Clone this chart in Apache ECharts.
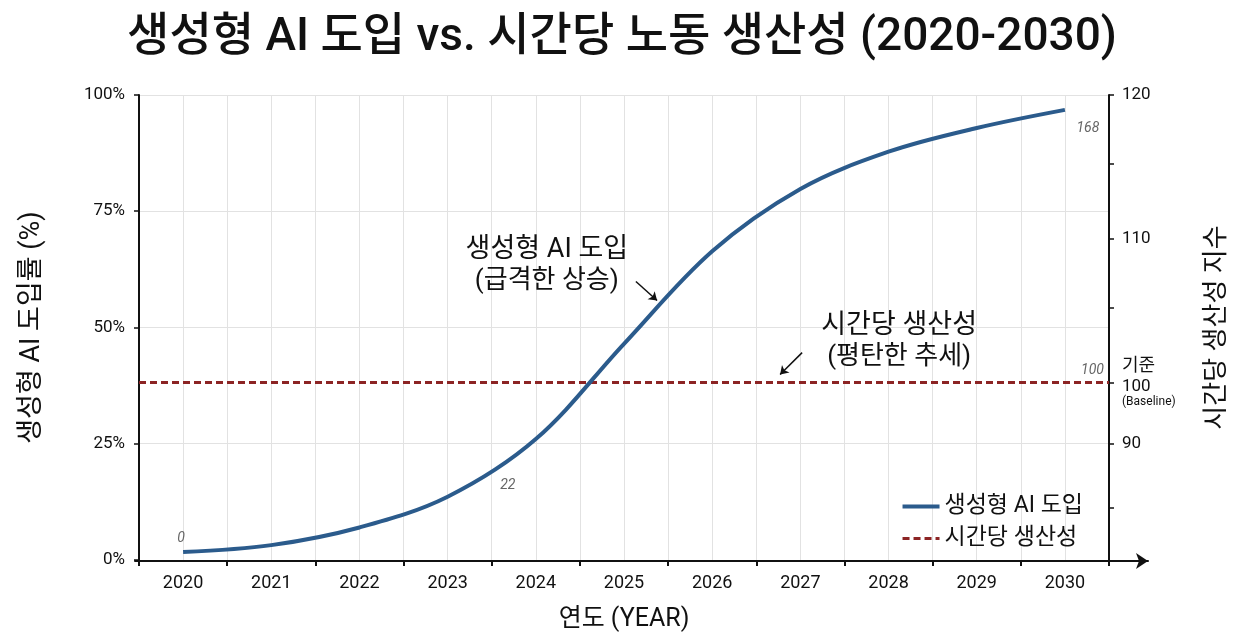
<!DOCTYPE html>
<html>
<head>
<meta charset="utf-8">
<script src="https://cdn.jsdelivr.net/npm/echarts@6/dist/echarts.min.js"></script>
<style>
  html, body { margin: 0; padding: 0; background: #fff; }
  #chart { width: 1244px; height: 637px; }
</style>
</head>
<body>
<div id="chart"></div>
<script>
// data
const years = ['2020', '2021', '2022', '2023', '2024', '2025', '2026', '2027', '2028', '2029', '2030']
const adoption = [1.7, 3.2, 7.0, 13.6, 26.0, 46.5, 66.4, 79.8, 87.8, 92.9, 96.8]
const productivity = [100, 100, 100, 100, 100, 100, 100, 100, 100, 100, 100]
const pointLabels = ['0', '', '', '', '22', '', '', '', '', '', '168']
const rightTickLabels = ['90', '100', '110', '120']
// where the reference puts those labels on the index scale
const rightTickAt = [95.7, 100, 110, 120]
const rightMinorAt = [91.3, 105.2, 115.2]

const FONT = 'Roboto, "Noto Sans CJK KR", sans-serif'
const BLUE = '#2b5b8c'
const RED = '#8c2424'
const INK = '#111'

// label offsets for the few labelled points
const labelOffsets = { 0: [-2, -2], 4: [-28, 58], 10: [23, 31] }

const adoptionData = adoption.map(function (v, i) {
  if (!pointLabels[i]) return v
  return {
    value: v,
    label: {
      show: true,
      position: 'top',
      offset: labelOffsets[i],
      formatter: pointLabels[i],
      fontStyle: 'italic',
      fontSize: 14,
      color: '#666',
      fontFamily: FONT
    }
  }
})

let myChart = echarts.init(document.getElementById('chart'))
let option = {
  backgroundColor: '#fff',
  animation: false,
  textStyle: { fontFamily: FONT },
  title: {
    text: '생성형 AI 도입 vs. 시간당 노동 생산성 (2020-2030)',
    left: 'center',
    top: 10,
    textStyle: { fontSize: 46, fontWeight: 500, color: INK, fontFamily: FONT }
  },
  legend: {
    orient: 'vertical',
    right: 156,
    top: 490,
    itemWidth: 37,
    itemHeight: 14,
    itemGap: 9,
    itemStyle: { opacity: 0 },
    textStyle: { fontSize: 23, color: INK, fontFamily: FONT },
    data: [
      { name: '생성형 AI 도입', lineStyle: { opacity: 1, color: BLUE, width: 4 } },
      { name: '시간당 생산성', lineStyle: { opacity: 1, color: RED, width: 3, type: [7, 4] } }
    ]
  },
  grid: [
    { left: 139, right: 135, top: 95, bottom: 76 },
    { left: 135, right: 96, top: 95, bottom: 76 }
  ],
  xAxis: [
    {
      type: 'category',
      gridIndex: 0,
      data: years,
      boundaryGap: true,
      axisLine: { show: false },
      axisTick: { show: true, length: 6, lineStyle: { color: INK, width: 2 } },
      axisLabel: { fontSize: 18, color: INK, margin: 15, fontFamily: FONT },
      splitLine: { show: false },
      name: '연도 (YEAR)',
      nameLocation: 'middle',
      nameGap: 47,
      nameTextStyle: { fontSize: 25, color: INK, fontFamily: FONT }
    },
    {
      // half-band grid lines
      type: 'value',
      gridIndex: 0,
      min: 0,
      max: 22,
      interval: 1,
      axisLine: { show: false },
      axisTick: { show: false },
      axisLabel: { show: false },
      splitLine: { show: true, lineStyle: { color: '#e2e2e2', width: 1 } }
    },
    {
      // long x axis line with the arrow
      type: 'value',
      gridIndex: 1,
      min: 0,
      max: 1,
      axisLine: { show: true, symbol: ['none', 'arrow'], symbolSize: [12, 12], lineStyle: { color: INK, width: 2 } },
      axisTick: { show: false },
      axisLabel: { show: false },
      splitLine: { show: false }
    }
  ],
  yAxis: [
    {
      type: 'value',
      gridIndex: 0,
      min: 0,
      max: 100,
      interval: 25,
      axisLine: { show: true, lineStyle: { color: INK, width: 2 } },
      axisTick: { show: true, length: 5, lineStyle: { color: INK, width: 1.5 } },
      axisLabel: { formatter: '{value}%', fontSize: 17, color: INK, margin: 14, fontFamily: FONT },
      splitLine: { show: true, lineStyle: { color: '#e2e2e2', width: 1 } },
      name: '생성형 AI 도입률 (%)',
      nameLocation: 'middle',
      nameRotate: 90,
      nameGap: 93,
      nameTextStyle: { fontSize: 27, color: INK, fontFamily: FONT }
    },
    {
      type: 'value',
      gridIndex: 0,
      position: 'right',
      min: 87.64,
      max: 120,
      axisLine: { show: true, lineStyle: { color: INK, width: 2 } },
      axisTick: {
        show: true,
        length: 5,
        customValues: rightTickAt.concat(rightMinorAt),
        lineStyle: { color: INK, width: 1.5 }
      },
      axisLabel: {
        customValues: rightTickAt,
        margin: 13,
        fontSize: 17,
        color: INK,
        fontFamily: FONT,
        formatter: function (v) {
          const i = rightTickAt.indexOf(v)
          const t = i >= 0 ? rightTickLabels[i] : ''
          if (t === '100') return '{a|기준}\n{b|100}\n{c|(Baseline)}'
          return t
        },
        rich: {
          a: { fontSize: 18, lineHeight: 22, color: INK, fontFamily: FONT },
          b: { fontSize: 17, lineHeight: 18, color: INK, fontFamily: FONT },
          c: { fontSize: 12, lineHeight: 13, color: INK, fontFamily: FONT }
        }
      },
      splitLine: { show: false },
      name: '시간당 생산성 지수',
      nameLocation: 'middle',
      nameRotate: 90,
      nameGap: 95,
      nameTextStyle: { fontSize: 26, color: INK, fontFamily: FONT }
    },
    {
      type: 'value',
      gridIndex: 1,
      show: false
    }
  ],
  series: [
    {
      name: '생성형 AI 도입',
      type: 'line',
      xAxisIndex: 0,
      yAxisIndex: 0,
      data: adoptionData,
      smooth: 0.35,
      symbol: 'circle',
      symbolSize: 0,
      itemStyle: { color: BLUE },
      lineStyle: { color: BLUE, width: 4 },
      z: 5
    },
    {
      name: '시간당 생산성',
      type: 'line',
      xAxisIndex: 0,
      yAxisIndex: 1,
      data: productivity,
      symbol: 'none',
      itemStyle: { color: RED },
      lineStyle: { color: RED, width: 3, type: [7, 4], opacity: 0 },
      markLine: {
        silent: true,
        symbol: 'none',
        lineStyle: { color: RED, width: 3, type: [7, 4], opacity: 1 },
        label: {
          show: true,
          position: 'insideEndTop',
          formatter: String(productivity[productivity.length - 1]),
          fontStyle: 'italic',
          fontSize: 14,
          color: '#666',
          fontFamily: FONT
        },
        data: [{ yAxis: productivity[0] }]
      },
      z: 4
    },
    {
      // annotations, placed in half-band / percent units
      name: 'annot',
      type: 'line',
      xAxisIndex: 1,
      yAxisIndex: 0,
      data: [],
      markPoint: {
        silent: true,
        symbol: 'circle',
        symbolSize: 0,
        label: {
          show: true,
          position: 'inside',
          color: INK,
          fontFamily: FONT,
          rich: {
            a: { fontSize: 27, lineHeight: 32, color: INK, fontFamily: FONT },
            b: { fontSize: 26, lineHeight: 31, color: INK, fontFamily: FONT }
          }
        },
        data: [
          { coord: [9.25, 63.3], label: { formatter: '{a|생성형 AI 도입}\n{b|(급격한 상승)}' } },
          { coord: [17.24, 47.0], label: { formatter: '{a|시간당 생산성}\n{b|(평탄한 추세)}' } }
        ]
      },
      markLine: {
        silent: true,
        symbol: ['none', 'arrow'],
        symbolSize: 8,
        label: { show: false },
        lineStyle: { color: INK, width: 1.5, type: 'solid' },
        data: [
          [{ coord: [11.27, 59.9] }, { coord: [11.75, 55.8] }],
          [{ coord: [15.04, 44.6] }, { coord: [14.54, 39.9] }]
        ]
      }
    }
  ]
}
myChart.setOption(option)
</script>
</body>
</html>
